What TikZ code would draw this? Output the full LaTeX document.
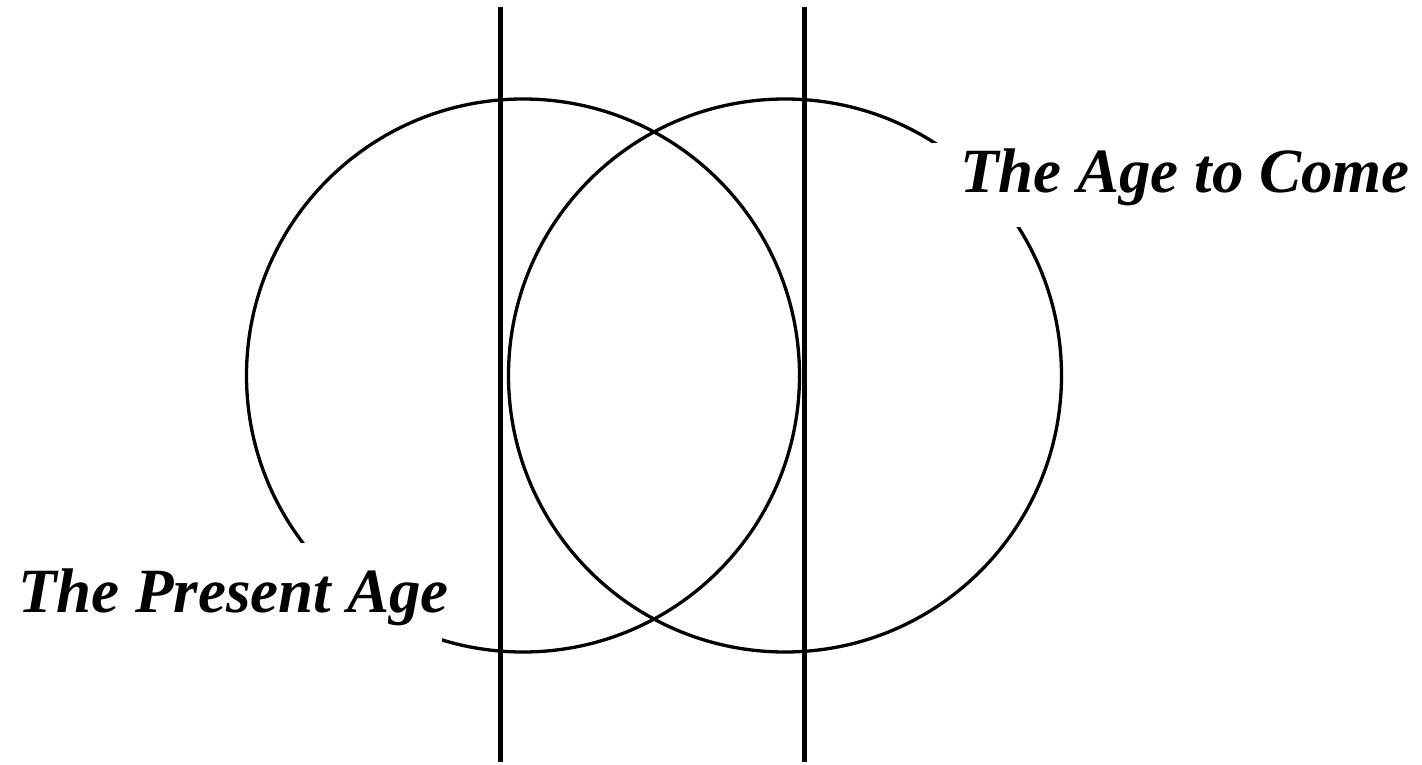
\documentclass[tikz,border=0pt]{standalone}
\usepackage{fontspec}
\setmainfont{Liberation Serif}
\begin{document}
\begin{tikzpicture}[x=1pt,y=-1pt,
  ring/.style={line width=3.3pt,black},
  divider/.style={line width=5pt,black},
  agelabel/.style={font=\fontsize{63}{63}\selectfont\bfseries\itshape,inner sep=0pt,anchor=base west},
  mask/.style={fill=white}]
\useasboundingbox (0,0) rectangle (1422,765);
\fill[white] (0,0) rectangle (1422,765);
% circles
\draw[ring] (523,375.5) circle[radius=276.5];
\draw[ring] (785,375.5) circle[radius=276.5];
% white masks behind labels
\fill[mask] (0,543) rectangle (442,644);
\fill[mask] (925,143) rectangle (1422,227);
% labels
\node[agelabel] (present) at (18,612) {The Present Age};
\node[agelabel] (come) at (960,193) {The Age to Come};
% vertical dividers
\coordinate (d1t) at (500.5,7);
\coordinate (d1b) at (500.5,762);
\coordinate (d2t) at (804.5,7);
\coordinate (d2b) at (804.5,762);
\draw[divider] (d1t) -- (d1b);
\draw[divider] (d2t) -- (d2b);
\end{tikzpicture}
\end{document}
